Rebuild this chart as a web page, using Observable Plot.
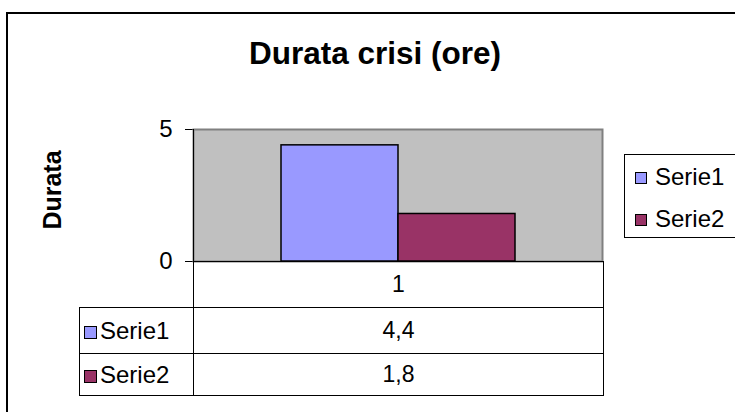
<!DOCTYPE html>
<html>
<head>
<meta charset="utf-8">
<script src="https://cdn.jsdelivr.net/npm/d3@7"></script>
<script src="https://cdn.jsdelivr.net/npm/@observablehq/plot@0.6"></script>
<style>
  body { margin: 0; background: #fff; font-family: "Liberation Sans", Arial, sans-serif; }
  #wrap { position: relative; width: 735px; height: 412px; overflow: hidden; background: #fff; }
  #border { position: absolute; left: 6px; top: 12px; width: 800px; height: 500px; border: 2px solid #000; }
  #chart { position: absolute; left: 0; top: 0; }
  #title { position: absolute; left: 0; width: 750px; top: 34px; text-align: center; font-weight: bold; font-size: 31.5px; line-height: 38px; color: #000; }
  #ylabel { position: absolute; left: 52px; top: 190px; transform: translate(-50%, -50%) rotate(-90deg); font-weight: bold; font-size: 25px; white-space: nowrap; }
  #legend { position: absolute; left: 624px; top: 154px; width: 130px; height: 82px; border: 1px solid #000; background: #fff; }
  .lg { position: absolute; left: 10px; font-size: 24px; line-height: 26px; white-space: nowrap; }
  .sw { display: inline-block; width: 10px; height: 10px; border: 1px solid #000; margin-right: 8px; vertical-align: 1px; }
  #table { position: absolute; left: 79px; top: 261px; border-collapse: collapse; table-layout: fixed; width: 524px; font-size: 23px; }
  #table td { border: 1px solid #000; padding: 0; }
  #table td.val { text-align: center; }
  #table td.key { white-space: nowrap; padding-left: 4px; font-size: 24px; overflow: hidden; }
  #table td.key .sw { width: 11px; height: 11px; margin-right: 3px; vertical-align: 0px; }
  #table td.blank { border-top: none; border-left: none; }
</style>
</head>
<body>
<div id="wrap">
  <div id="border"></div>
  <div id="chart"></div>
  <div id="title"></div>
  <div id="ylabel"></div>
  <div id="legend"></div>
  <table id="table"><colgroup><col style="width:114px"><col style="width:410px"></colgroup></table>
</div>
<script>
const categories = ["1"];
const series = ["Serie1", "Serie2"];
const values = [4.4, 1.8];
const valueLabels = ["4,4", "1,8"];
const colors = ["#9999ff", "#993366"];
const yTicks = [0, 5];
const titleText = "Durata crisi (ore)";
const yLabelText = "Durata";

const data = series.map((s, i) => ({ series: s, value: values[i], category: categories[0] }));

const chart = Plot.plot({
  width: 735,
  height: 412,
  marginLeft: 193,
  marginRight: 133,
  marginTop: 129,
  marginBottom: 151,
  x: { domain: series, paddingInner: 0, paddingOuter: 0.74, axis: null },
  y: { domain: [0, 5], ticks: yTicks, tickSize: 8, tickPadding: 13, label: null, tickFormat: d => String(d) },
  color: { domain: series, range: colors },
  style: { fontFamily: "'Liberation Sans', Arial, sans-serif", fontSize: "24px", background: "transparent", color: "#000" },
  marks: [
    Plot.frame({ fill: "#c0c0c0", stroke: "#808080", strokeWidth: 2 }),
    Plot.barY(data, { x: "series", y: "value", fill: "series", stroke: "#000", strokeWidth: 1.5 }),
    Plot.frame({ anchor: "left", stroke: "#000" }),
    Plot.ruleY([0], { stroke: "#000" })
  ]
});
document.getElementById("chart").appendChild(chart);
document.getElementById("title").textContent = titleText;
document.getElementById("ylabel").textContent = yLabelText;

const legend = document.getElementById("legend");
series.forEach((s, i) => {
  const d = document.createElement("div");
  d.className = "lg";
  d.style.top = (9 + i * 42) + "px";
  d.innerHTML = `<span class="sw" style="background:${colors[i]}"></span>${s}`;
  legend.appendChild(d);
});

const table = document.getElementById("table");
const head = document.createElement("tr");
head.style.height = "46px";
head.innerHTML = `<td class="key blank"></td><td class="val">${categories[0]}</td>`;
table.appendChild(head);
series.forEach((s, i) => {
  const tr = document.createElement("tr");
  tr.style.height = i === 0 ? "46px" : "42px";
  tr.innerHTML = `<td class="key"><span class="sw" style="background:${colors[i]}"></span>${s}</td><td class="val">${valueLabels[i]}</td>`;
  table.appendChild(tr);
});
</script>
</body>
</html>
